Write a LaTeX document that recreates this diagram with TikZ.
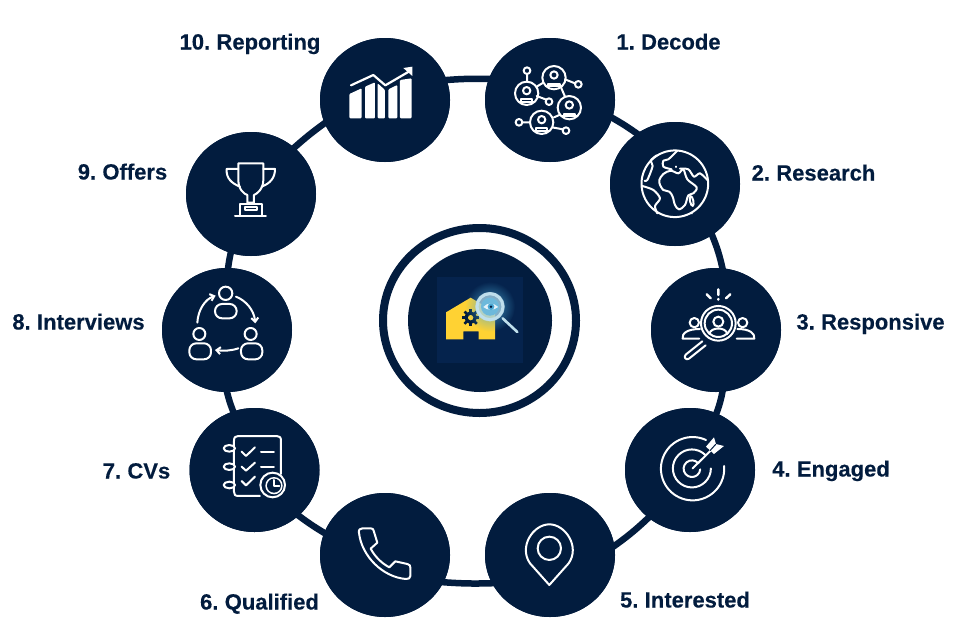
\documentclass[tikz,border=0pt]{standalone}
\usepackage{fontspec}
\setmainfont{Liberation Sans}[BoldFeatures={FakeBold=0.25},WordSpace=0.7]
\usetikzlibrary{shapes.geometric,arrows.meta,fadings}
\definecolor{navy}{HTML}{021C3E}
\definecolor{tile}{HTML}{05234D}
\definecolor{house}{HTML}{FFD233}
\definecolor{lens}{HTML}{BFDFEC}
\definecolor{lensin}{HTML}{4AA8D4}
\tikzfading[name=glowfade, inner color=transparent!15, outer color=transparent!100]
\tikzset{
  disc/.style={ellipse,fill=navy,minimum width=130pt,minimum height=124pt,inner sep=0pt,outer sep=0pt},
  ringline/.style={draw=navy,line width=6.5pt,shorten <=-3pt,shorten >=-3pt},
  lab/.style={anchor=base,text=navy,font=\fontsize{22}{24}\selectfont\bfseries,inner sep=0pt},
  ic/.style={draw=white,line width=2pt,line cap=round,line join=round},
  icz/.style={shift={#1},x=0.3333pt,y=-0.3333pt}
}
\newcommand{\ringperson}[2]{%
  \draw[ic] (#1,#2) circle[radius=35];
  \draw[ic] (#1,#2-8) circle[radius=11];
  \draw[ic] (#1-17,#2+24) -- (#1-17,#2+18) -- (#1+17,#2+18) -- (#1+17,#2+24);
  \draw[ic] (#1-22,#2+26) -- (#1+22,#2+26);
}
\begin{document}
\begin{tikzpicture}[x=1pt,y=-1pt]
\useasboundingbox (0,0) rectangle (968,640);
\fill[white] (0,0) rectangle (968,640);

% step discs
\node[disc] (n1) at (550,100) {};
\node[disc] (n2) at (675,184) {};
\node[disc] (n3) at (716,330) {};
\node[disc] (n4) at (690,470) {};
\node[disc] (n5) at (550,555) {};
\node[disc] (n6) at (385,555) {};
\node[disc] (n7) at (254.5,470) {};
\node[disc] (n8) at (227,330) {};
\node[disc] (n9) at (251,194) {};
\node[disc] (n10) at (385,100) {};

% ring connectors
\draw[ringline] (n10.18) to[bend left=3] (n1.161);
\draw[ringline] (n1.-16) to[bend left=3] (n2.127);
\draw[ringline] (n2.-54) to[bend left=5] (n3.84);
\draw[ringline] (n3.-84) to[bend left=5] (n4.65);
\draw[ringline] (n4.229) to[bend left=4] (n5.8);
\draw[ringline] (n5.206) to[bend left=3] (n6.-25);
\draw[ringline] (n6.160) to[bend left=3] (n7.-46);
\draw[ringline] (n7.110) to[bend left=4] (n8.-90);
\draw[ringline] (n8.89) to[bend left=3] (n9.251);
\draw[ringline] (n9.47) to[bend left=3] (n10.201);
% discs again above the line ends
\foreach \c in {n1,n2,n3,n4,n5,n6,n7,n8,n9,n10} \fill[navy] (\c) ellipse[x radius=65,y radius=62];

% centre
\node[ellipse,draw=navy,line width=8pt,minimum width=193pt,minimum height=185pt,inner sep=0pt] (hubring) at (479.5,320.5) {};
\node[ellipse,fill=navy,minimum width=144pt,minimum height=143pt,inner sep=0pt] (hub) at (480,320.5) {};
\fill[tile] (437,277) rectangle (523,363);
\begin{scope}[icz={(430,270)}]
  \fill[house] (48,127) -- (122,83) -- (195,127) -- (195,208) -- (146,208) -- (146,184) -- (100,184) -- (100,208) -- (48,208) -- cycle;
  \fill[navy] (122,143) circle[radius=18];
  \foreach \a in {0,45,...,315} \draw[navy,line width=2.6pt] (122,143) ++(\a:14) -- ++(\a:12);
  \fill[house] (122,143) circle[radius=8];
  \fill[lensin,path fading=glowfade] (180,110) circle[radius=75];
  \draw[lens,line width=2.6pt,line cap=round] (218,145) -- (262,186);
  \fill[lens,opacity=.6] (180,110) circle[radius=44];
  \draw[lens,line width=3pt] (180,110) circle[radius=39];
  \fill[lensin!70!lens] (180,110) circle[radius=27];
  \fill[white!85!lensin] (160,111) .. controls (172,97) and (190,97) .. (205,111) .. controls (190,122) and (172,122) .. (160,111) -- cycle;
  \fill[lensin] (183,110) circle[radius=10];
  \fill[navy] (183,110) circle[radius=4];
\end{scope}

% icon 1
\begin{scope}[icz={(480,30)}]
  \ringperson{222}{143}\ringperson{140}{190}\ringperson{268}{233}\ringperson{185}{277}
  \foreach \p in {(141,122),(295,163),(207,215),(117,277),(258,302)} \draw[ic] \p circle[radius=10];
  \draw[ic] (141,132)--(141,155) (170,170)--(190,158) (255,148)--(285,160) (170,198)--(199,209)
    (243,172)--(255,200) (222,262)--(238,255) (150,277)--(127,277) (216,292)--(249,298);
\end{scope}

% icon 2
\begin{scope}[icz={(600,130)}]
  \draw[ic] (262,254) arc[start angle=68,end angle=-292,radius=100];
  \draw[ic] (275,250) circle[radius=.6];
  \draw[ic,smooth,tension=.55] plot coordinates {(180,165) (178,150) (190,132) (212,122) (235,130) (250,118) (262,148) (290,172) (280,190) (265,196) (255,225) (237,238) (225,225) (218,200) (208,185) (190,180) (180,165)};
  \draw[ic,smooth,tension=.5] plot coordinates {(232,62) (205,88) (190,92) (190,110) (215,118)};
  \draw[ic,smooth,tension=.5] plot coordinates {(240,116) (265,118) (282,140) (300,130) (322,150)};
  \draw[ic,smooth,tension=.5] plot coordinates {(170,76) (152,92) (158,108) (142,150) (134,152)};
  \draw[ic,smooth,tension=.5] plot coordinates {(127,168) (160,180) (180,205) (165,228) (172,250)};
  \draw[ic,rotate around={12:(275,213)}] (275,213) ellipse[x radius=5,y radius=15];
  \draw[ic] (228,110) circle[radius=.6];
\end{scope}

% icon 3
\begin{scope}[icz={(600,130)}]
  \draw[ic] (355,580) circle[radius=52];
  \draw[ic] (355,580) circle[radius=41];
  \draw[ic] (355,575) circle[radius=15];
  \draw[ic] (328,612) .. controls (332,590) and (378,590) .. (382,612);
  \draw[ic,line width=2.4pt] (355,478)--(355,495) (355,507)--(355,509) (320,493)--(332,505) (391,493)--(378,505);
  \draw[ic] (283,578) circle[radius=14];
  \draw[ic] (428,578) circle[radius=14];
  \draw[ic] (298,626) -- (248,626) .. controls (245,610) and (262,597) .. (300,597);
  \draw[ic] (410,626) -- (463,626) .. controls (465,610) and (450,597) .. (412,597);
  \draw[ic] (317,646) -- (267,686) .. controls (258,692) and (250,682) .. (257,674) -- (307,634);
\end{scope}

% icon 4
\begin{scope}[icz={(480,400)}]
  \draw[ic] (678,120) arc[start angle=-65,end angle=-365,radius=95] ;
  \draw[ic] (676,165) arc[start angle=-45,end angle=-360,radius=57];
  \draw[ic] (655,190) arc[start angle=-40,end angle=-355,radius=25];
  \draw[ic] (638,205) -- (692,152);
  \fill[white] (678,140) -- (702,112) -- (708,132) -- (732,138) -- (702,162) -- cycle;
  \draw[navy,line width=1pt] (690,152) -- (708,132);
\end{scope}

% icon 5
\begin{scope}[icz={(480,400)}]
  \draw[ic] (208,555) -- (150,490) .. controls (115,440) and (160,373) .. (208,373) .. controls (256,373) and (301,440) .. (266,490) -- cycle;
  \draw[ic] (208,445) circle[radius=35];
\end{scope}

% icon 6
\begin{scope}[icz={(180,400)}]
  \draw[ic] (537,398) .. controls (535,388) and (542,385) .. (548,385) -- (572,385) .. controls (578,385) and (580,388) .. (581,392)
    -- (592,428) -- (572,446) .. controls (585,470) and (605,490) .. (628,502) -- (646,484) -- (682,492) .. controls (690,494) and (691,497) .. (691,503)
    -- (691,528) .. controls (691,534) and (686,538) .. (678,537) .. controls (610,532) and (545,470) .. (537,398) -- cycle;
\end{scope}

% icon 7
\begin{scope}[icz={(180,400)}]
  \draw[ic] (240,288) -- (175,288) .. controls (165,288) and (162,283) .. (162,275) -- (162,122) .. controls (162,112) and (166,108) .. (175,108) -- (290,108) .. controls (299,108) and (303,112) .. (303,122) -- (303,222);
  \foreach \y in {145,200,255} {\fill[navy] (148,\y) ellipse[x radius=17,y radius=10]; \draw[ic] (148,\y) ellipse[x radius=17,y radius=10];}
  \draw[ic] (185,155)--(198,168)--(225,142) (185,200)--(198,212)--(225,188) (185,243)--(198,256)--(225,230);
  \draw[ic] (243,155)--(282,155) (243,200)--(282,200);
  \fill[navy] (278,255) circle[radius=38];
  \draw[ic] (278,255) circle[radius=37];
  \fill[white] (282,257) circle[radius=26];
  \fill[navy] (282,257) circle[radius=21];
  \draw[ic,line width=2pt] (282,240)--(282,257)--(298,257);
\end{scope}

% icon 8
\begin{scope}[icz={(160,130)}]
  \draw[ic] (197,490) circle[radius=20];
  \draw[ic] (118,612) circle[radius=18];
  \draw[ic] (272,612) circle[radius=18];
  \draw[ic,rounded corners=7pt] (165,522) rectangle (230,565);
  \draw[ic,rounded corners=7pt] (88,640) rectangle (153,688);
  \draw[ic,rounded corners=7pt] (243,640) rectangle (307,688);
  \draw[ic,-{Straight Barb[length=4pt,width=7pt]}] (112,578) .. controls (114,540) and (135,508) .. (167,497);
  \draw[ic,-{Straight Barb[length=4pt,width=7pt]}] (228,500) .. controls (258,512) and (282,540) .. (286,580);
  \draw[ic,-{Straight Barb[length=4pt,width=7pt]}] (235,655) .. controls (212,663) and (190,663) .. (165,660);
\end{scope}

% icon 9
\begin{scope}[icz={(160,130)}]
  \draw[ic] (235,100) -- (310,100) -- (310,150) .. controls (310,178) and (290,192) .. (282,195) -- (282,218) -- (262,218) -- (262,195) .. controls (252,192) and (235,178) .. (235,150) -- cycle;
  \draw[ic] (235,117) -- (200,117) .. controls (198,145) and (215,160) .. (240,170);
  \draw[ic] (310,117) -- (345,117) .. controls (345,145) and (330,160) .. (305,170);
  \draw[ic] (240,255) -- (240,222) -- (305,222) -- (305,255);
  \draw[ic] (225,257) -- (318,257);
  \draw[ic] (255,232) rectangle (290,240);
\end{scope}

% icon 10
\begin{scope}[icz={(310,30)}]
  \fill[white,rounded corners=1pt] (118,192) -- (155,175) -- (155,265) -- (118,265) -- cycle;
  \fill[white,rounded corners=1pt] (165,170) -- (195,157) -- (195,265) -- (165,265) -- cycle;
  \fill[white,rounded corners=1pt] (203,160) -- (225,180) -- (225,265) -- (203,265) -- cycle;
  \fill[white,rounded corners=1pt] (235,178) -- (262,165) -- (262,265) -- (235,265) -- cycle;
  \fill[white,rounded corners=1pt] (270,150) -- (305,145) -- (305,265) -- (270,265) -- cycle;
  \draw[white,line width=2.2pt,line cap=round,line join=round] (123,166) -- (190,135) -- (226,166) -- (298,124);
  \fill[white] (280,114) -- (307,110) -- (307,138) -- cycle;
\end{scope}

% labels
\node[lab] (l1) at (668.5,49.5) {1. Decode};
\node[lab] (l2) at (813.5,180.5) {2. Research};
\node[lab] (l3) at (870.5,329.5) {3. Responsive};
\node[lab] (l4) at (831,476.5) {4. Engaged};
\node[lab] (l5) at (685,607.5) {5. Interested};
\node[lab] (l6) at (259.5,609.5) {6. Qualified};
\node[lab] (l7) at (136.5,478.5) {7. CVs};
\node[lab] (l8) at (78.5,329.5) {8. Interviews};
\node[lab] (l9) at (122.5,179.5) {9. Offers};
\node[lab] (l10) at (250,49.5) {10. Reporting};
\end{tikzpicture}
\end{document}
